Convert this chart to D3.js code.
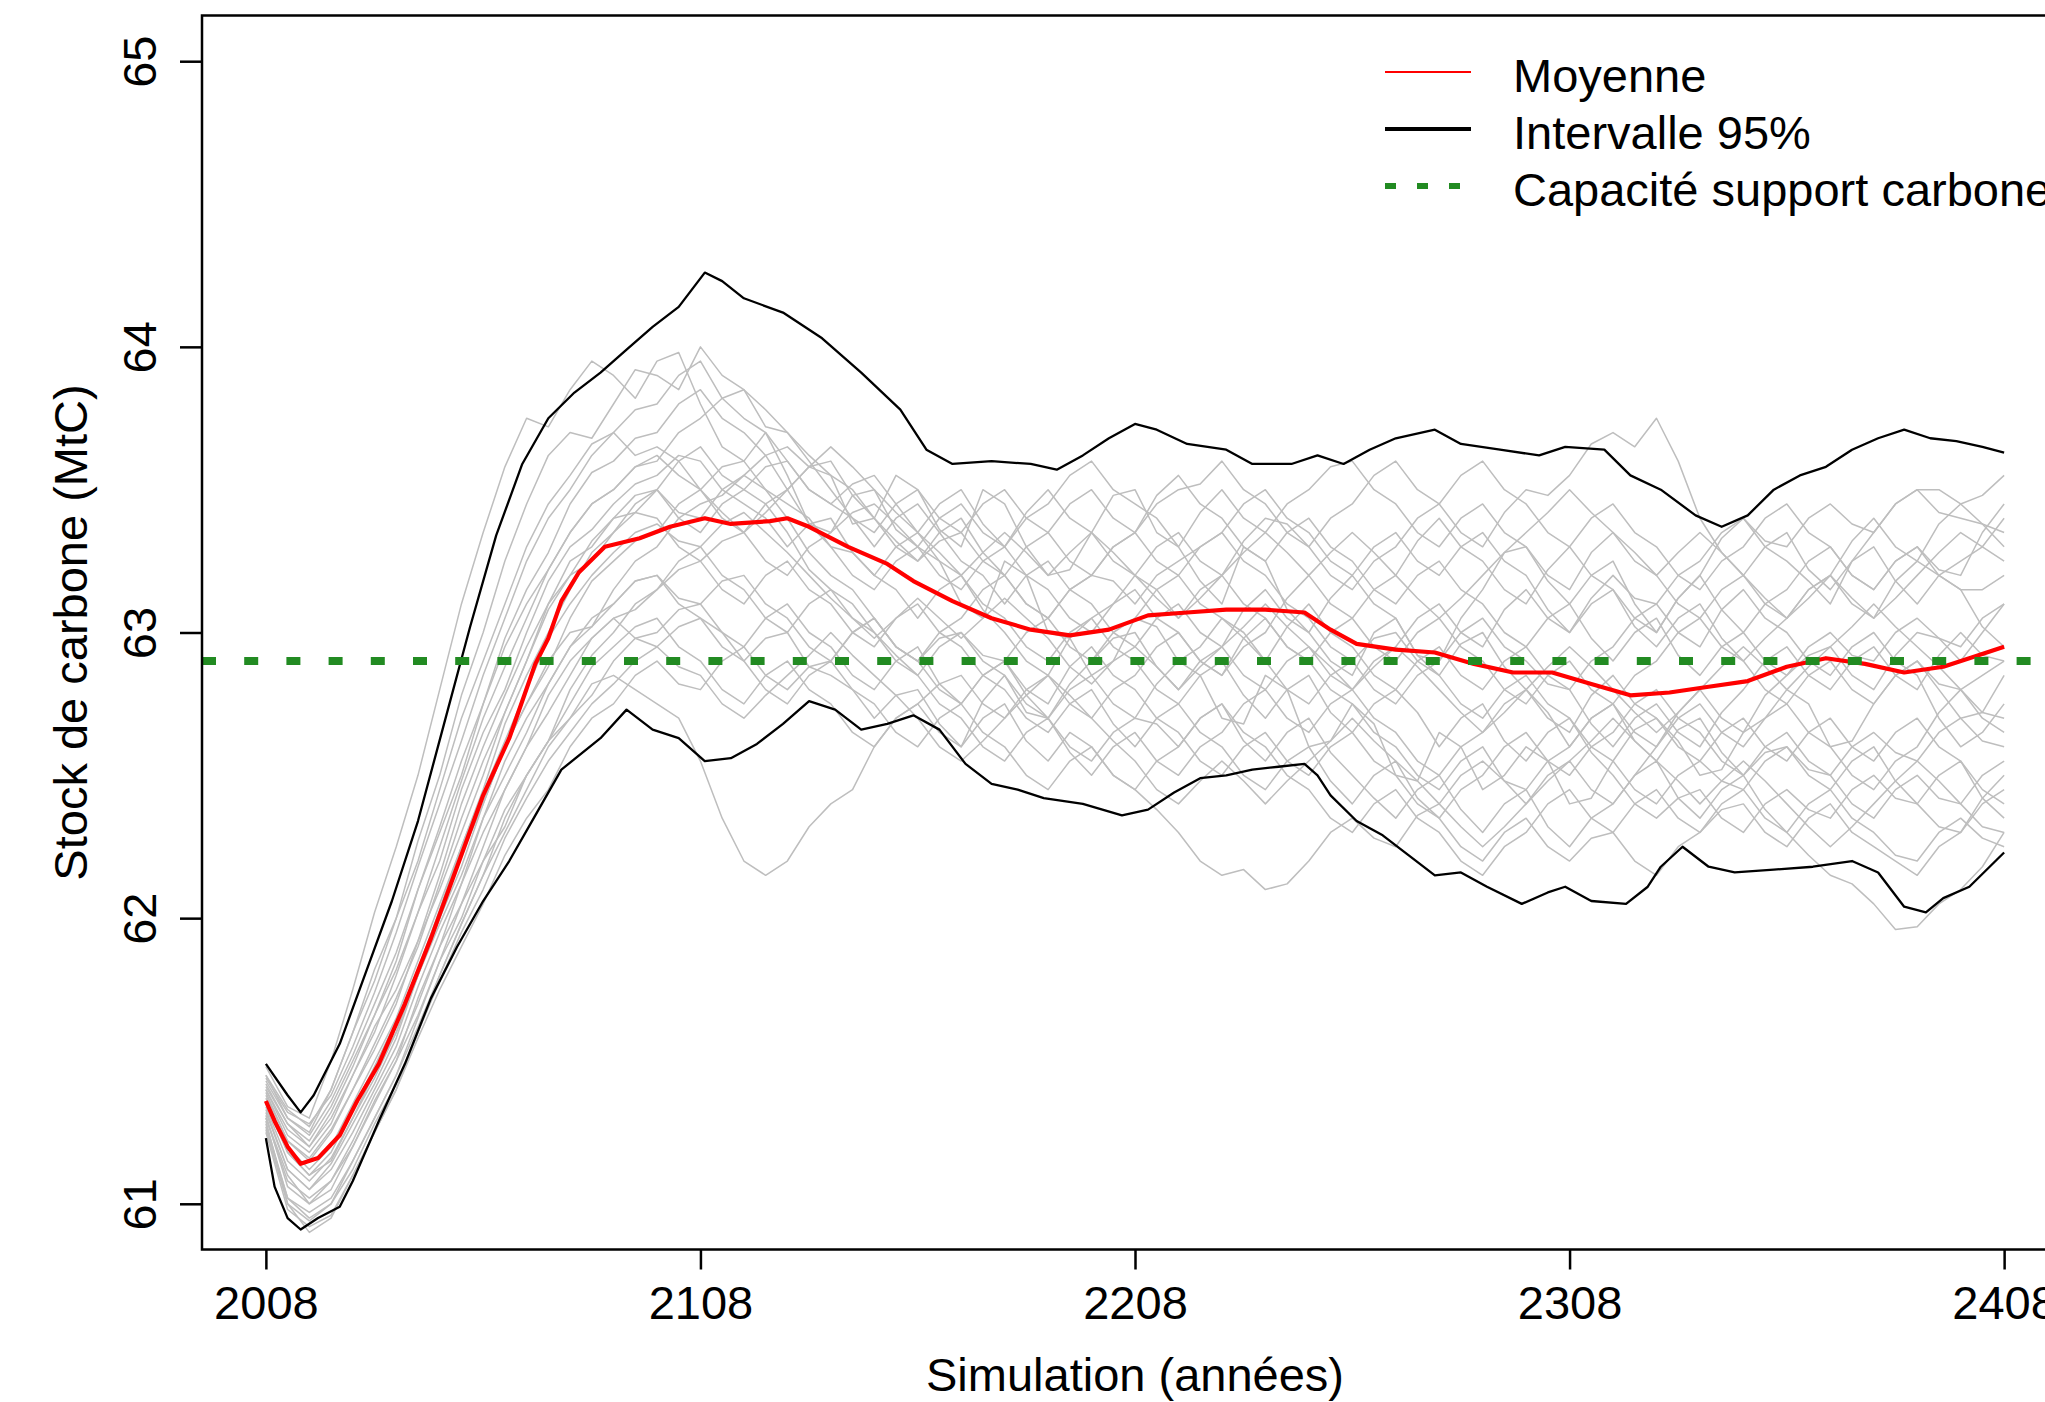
<!DOCTYPE html>
<html>
<head>
<meta charset="utf-8">
<script src="https://cdn.jsdelivr.net/npm/d3@7"></script>
<style>
  html, body { margin: 0; padding: 0; background: #ffffff; }
  svg { display: block; }
  text { font-family: "Liberation Sans", Arial, Helvetica, sans-serif; fill: #000; }
</style>
</head>
<body>
<svg id="chart" width="2045" height="1402"></svg>
<script>
// ---------------- DATA ----------------
const xTicks = [2008, 2108, 2208, 2308, 2408];
const yTicks = [61, 62, 63, 64, 65];
const capaciteSupport = 62.9;

const legendLabels = ["Moyenne", "Intervalle 95%", "Capacité support carbone"];

const moyenne = [[2008,61.36],[2010,61.29],[2013,61.20],[2016,61.14],[2020,61.16],[2025,61.24],[2029,61.36],[2034,61.49],[2040,61.70],[2046,61.93],[2052,62.18],[2058,62.43],[2064,62.63],[2070,62.89],[2073,62.98],[2076,63.11],[2080,63.21],[2086,63.30],[2094,63.33],[2101,63.37],[2109,63.40],[2115,63.38],[2124,63.39],[2128,63.40],[2133,63.37],[2142,63.30],[2151,63.24],[2157,63.18],[2166,63.11],[2175,63.05],[2184,63.01],[2193,62.99],[2202,63.01],[2211,63.06],[2220,63.07],[2229,63.08],[2238,63.08],[2247,63.07],[2253,63.01],[2259,62.96],[2268,62.94],[2277,62.93],[2286,62.89],[2295,62.86],[2304,62.86],[2313,62.82],[2322,62.78],[2331,62.79],[2340,62.81],[2349,62.83],[2358,62.88],[2367,62.91],[2376,62.89],[2385,62.86],[2394,62.88],[2400,62.91],[2408,62.95]];

const intervalleHaut = [[2008,61.49],[2013,61.38],[2016,61.32],[2019,61.38],[2025,61.56],[2031,61.81],[2037,62.06],[2043,62.34],[2049,62.68],[2055,63.02],[2061,63.34],[2067,63.59],[2073,63.75],[2079,63.84],[2085,63.91],[2091,63.99],[2097,64.07],[2103,64.14],[2109,64.26],[2113,64.23],[2118,64.17],[2127,64.12],[2136,64.03],[2145,63.91],[2154,63.78],[2160,63.64],[2166,63.59],[2175,63.60],[2184,63.59],[2190,63.57],[2196,63.62],[2202,63.68],[2208,63.73],[2213,63.71],[2220,63.66],[2229,63.64],[2235,63.59],[2244,63.59],[2250,63.62],[2256,63.59],[2262,63.64],[2268,63.68],[2277,63.71],[2283,63.66],[2292,63.64],[2301,63.62],[2307,63.65],[2316,63.64],[2322,63.55],[2329,63.50],[2337,63.41],[2343,63.37],[2349,63.41],[2355,63.50],[2361,63.55],[2367,63.58],[2373,63.64],[2379,63.68],[2385,63.71],[2391,63.68],[2397,63.67],[2403,63.65],[2408,63.63]];

const intervalleBas = [[2008,61.23],[2010,61.06],[2013,60.95],[2016,60.91],[2020,60.95],[2025,60.99],[2028,61.08],[2034,61.29],[2040,61.49],[2046,61.72],[2052,61.90],[2058,62.06],[2064,62.20],[2070,62.36],[2076,62.52],[2085,62.63],[2091,62.73],[2097,62.66],[2103,62.63],[2109,62.55],[2115,62.56],[2121,62.61],[2127,62.68],[2133,62.76],[2139,62.73],[2145,62.66],[2151,62.68],[2157,62.71],[2163,62.66],[2169,62.54],[2175,62.47],[2181,62.45],[2187,62.42],[2196,62.40],[2205,62.36],[2211,62.38],[2217,62.44],[2223,62.49],[2229,62.50],[2235,62.52],[2241,62.53],[2247,62.54],[2250,62.50],[2253,62.43],[2259,62.34],[2265,62.29],[2271,62.22],[2277,62.15],[2283,62.16],[2289,62.11],[2297,62.05],[2303,62.09],[2307,62.11],[2313,62.06],[2321,62.05],[2326,62.11],[2329,62.18],[2334,62.25],[2340,62.18],[2346,62.16],[2355,62.17],[2364,62.18],[2373,62.20],[2379,62.16],[2385,62.04],[2390,62.02],[2394,62.07],[2400,62.11],[2408,62.23]];

// years of the grey simulation trajectories (decades, and the years in between)
const simAnnees = [2008,2018,2028,2038,2048,2058,2068,2078,2088,2098,2108,2118,2128,2138,2148,2158,2168,2178,2188,2198,2208,2218,2228,2238,2248,2258,2268,2278,2288,2298,2308,2318,2328,2338,2348,2358,2368,2378,2388,2398,2408];
const simAnneesMi = [2013,2023,2033,2043,2053,2063,2073,2083,2093,2103,2113,2123,2133,2143,2153,2163,2173,2183,2193,2203,2213,2223,2233,2243,2253,2263,2273,2283,2293,2303,2313,2323,2333,2343,2353,2363,2373,2383,2393,2403];

const sim01 = [61.45,61.25,61.6,62.0,62.5,63.0,63.45,63.7,63.8,63.9,64.0,63.85,63.7,63.55,63.4,63.5,63.3,63.45,63.2,63.35,63.5,63.3,63.1,63.25,63.0,62.85,63.05,62.9,63.15,63.3,63.1,63.25,63.0,63.2,63.4,63.25,63.1,63.35,63.5,63.4,63.3];
const sim01m = [61.30,61.40,61.78,62.27,62.78,63.25,63.62,63.68,63.92,63.85,63.9,63.72,63.62,63.38,63.55,63.36,63.5,63.3,63.22,63.48,63.35,63.18,63.3,63.08,62.9,63.0,62.92,63.05,63.28,63.18,63.2,63.1,63.12,63.33,63.3,63.18,63.25,63.45,63.42,63.38];
const sim02 = [61.48,61.3,61.75,62.25,62.8,63.35,63.75,63.85,63.9,63.95,63.8,63.6,63.55,63.35,63.5,63.3,63.1,63.25,63.0,62.85,63.05,62.9,62.7,62.85,62.6,62.75,62.5,62.65,62.45,62.6,62.4,62.55,62.7,62.5,62.65,62.8,62.6,62.75,62.9,62.7,62.85];
const sim02m = [61.34,61.5,62.02,62.5,63.1,63.58,63.72,63.95,63.82,63.98,63.65,63.7,63.38,63.48,63.36,63.25,63.05,63.2,62.98,62.9,63.02,62.85,62.68,62.8,62.62,62.68,62.48,62.6,62.5,62.55,62.42,62.66,62.62,62.52,62.7,62.75,62.62,62.85,62.8,62.72];
const sim03 = [61.3,61.0,61.2,61.5,61.85,62.2,62.5,62.7,62.85,62.75,62.55,62.2,62.2,62.4,62.6,62.75,62.6,62.85,62.7,62.9,63.0,62.8,62.95,63.15,63.0,63.2,63.05,62.85,63.0,62.8,62.6,62.75,62.55,62.7,62.5,62.6,62.45,62.6,62.4,62.55,62.35];
const sim03m = [61.1,61.05,61.36,61.66,62.05,62.32,62.62,62.82,62.8,62.7,62.35,62.15,62.32,62.45,62.7,62.65,62.76,62.72,62.82,62.98,62.88,62.9,63.08,63.05,63.12,63.1,62.92,62.96,62.88,62.72,62.7,62.62,62.66,62.58,62.58,62.5,62.55,62.48,62.5,62.42];
const sim04 = [61.35,61.1,61.3,61.6,62.0,62.4,62.75,63.0,63.1,63.2,63.05,62.9,63.0,62.85,62.7,62.8,62.6,62.75,62.55,62.6,62.45,62.3,62.15,62.1,62.2,62.35,62.25,62.4,62.55,62.45,62.6,62.75,62.6,62.8,62.65,62.85,62.95,62.8,63.0,62.9,63.1];
const sim04m = [61.18,61.15,61.44,61.8,62.22,62.6,62.9,63.02,63.18,63.1,63.0,62.98,62.88,62.8,62.78,62.68,62.7,62.62,62.65,62.5,62.38,62.2,62.17,62.12,62.3,62.28,62.36,62.5,62.48,62.55,62.7,62.65,62.72,62.7,62.78,62.92,62.85,62.92,62.98,63.0];
const sim05 = [61.4,61.2,61.45,61.8,62.2,62.65,63.0,63.3,63.45,63.55,63.6,63.45,63.3,63.4,63.2,63.05,63.2,63.0,62.85,63.05,63.2,63.35,63.2,63.4,63.3,63.15,63.3,63.45,63.3,63.5,63.55,63.7,63.75,63.4,63.2,63.35,63.15,63.3,63.1,63.25,63.4];
const sim05m = [61.26,61.3,61.6,62.02,62.45,62.8,63.18,63.36,63.52,63.62,63.5,63.4,63.38,63.28,63.15,63.15,63.08,62.9,62.98,63.1,63.3,63.25,63.32,63.38,63.2,63.25,63.4,63.35,63.42,63.48,63.66,63.65,63.6,63.28,63.3,63.22,63.25,63.18,63.2,63.3];
const sim06 = [61.28,60.95,61.15,61.45,61.8,62.15,62.45,62.7,62.9,63.0,63.1,62.95,63.1,62.95,62.8,62.95,62.75,62.9,62.7,62.55,62.7,62.6,62.75,62.55,62.7,62.5,62.35,62.5,62.3,62.45,62.25,62.4,62.55,62.35,62.5,62.3,62.15,62.05,61.97,62.1,62.3];
const sim06m = [61.02,61.0,61.3,61.62,61.98,62.3,62.6,62.78,62.98,63.08,63.0,63.05,63.0,62.85,62.9,62.82,62.85,62.78,62.6,62.65,62.68,62.7,62.62,62.65,62.58,62.42,62.45,62.38,62.4,62.32,62.35,62.5,62.42,62.45,62.38,62.22,62.12,61.96,62.05,62.18];
const sim07 = [61.38,61.15,61.4,61.7,62.1,62.5,62.9,63.25,63.4,63.5,63.35,63.5,63.6,63.45,63.3,63.45,63.25,63.1,63.25,63.1,62.95,63.1,62.95,62.8,62.95,62.8,62.95,63.1,62.95,63.15,63.0,63.2,63.1,63.25,63.4,63.3,63.45,63.35,63.5,63.45,63.55];
const sim07m = [61.22,61.25,61.54,61.92,62.3,62.72,63.1,63.3,63.48,63.4,63.45,63.58,63.5,63.4,63.4,63.35,63.2,63.2,63.15,63.0,63.05,63.0,62.85,62.9,62.85,62.9,63.05,63.0,63.08,63.05,63.12,63.12,63.2,63.35,63.32,63.4,63.38,63.45,63.5,63.48];
const sim08 = [61.25,60.92,61.1,61.4,61.75,62.05,62.35,62.6,62.75,62.9,62.8,62.95,62.8,62.9,63.05,62.9,63.05,63.2,63.05,63.2,63.1,63.25,63.35,63.2,63.05,62.9,63.0,62.85,62.7,62.85,62.7,62.55,62.4,62.55,62.45,62.6,62.5,62.65,62.55,62.7,62.6];
const sim08m = [60.98,60.96,61.25,61.58,61.9,62.22,62.45,62.7,62.85,62.82,62.9,62.85,62.88,63.0,62.95,63.0,63.15,63.1,63.15,63.18,63.2,63.3,63.25,63.1,62.95,62.98,62.9,62.75,62.8,62.75,62.6,62.45,62.5,62.48,62.55,62.52,62.6,62.58,62.65,62.62];
const sim09 = [61.42,61.22,61.5,61.85,62.3,62.75,63.15,63.45,63.6,63.7,63.85,63.7,63.5,63.6,63.4,63.25,63.4,63.2,63.35,63.5,63.35,63.55,63.4,63.25,63.4,63.25,63.1,63.25,63.1,62.95,63.1,62.9,63.05,62.85,63.0,62.85,63.0,62.9,63.05,62.95,63.1];
const sim09m = [61.28,61.34,61.66,62.1,62.5,62.98,63.28,63.56,63.68,63.8,63.75,63.62,63.58,63.48,63.32,63.35,63.28,63.3,63.45,63.4,63.48,63.45,63.3,63.35,63.3,63.15,63.2,63.15,63.0,63.05,62.98,63.0,62.92,62.95,62.9,62.95,62.92,63.0,62.98,63.05];
const sim10 = [61.32,61.05,61.25,61.55,61.95,62.35,62.65,62.95,63.15,63.3,63.45,63.55,63.4,63.2,63.05,62.9,63.0,62.85,62.7,62.85,62.7,62.9,63.05,62.9,63.1,62.95,62.8,62.6,62.75,62.55,62.7,62.5,62.35,62.45,62.3,62.45,62.35,62.5,62.4,62.3,62.45];
const sim10m = [61.12,61.12,61.4,61.76,62.12,62.5,62.82,63.02,63.25,63.4,63.48,63.5,63.28,63.15,62.95,62.98,62.9,62.75,62.8,62.75,62.82,62.95,63.0,63.02,63.0,62.85,62.72,62.7,62.62,62.65,62.58,62.4,62.42,62.35,62.4,62.38,62.45,62.42,62.32,62.4];
const sim11 = [61.44,61.28,61.55,61.95,62.4,62.85,63.25,63.5,63.7,63.8,63.95,63.75,63.6,63.45,63.55,63.35,63.5,63.3,63.45,63.6,63.45,63.3,63.5,63.35,63.5,63.6,63.45,63.3,63.45,63.3,63.15,63.35,63.2,63.05,63.2,63.05,63.2,63.4,63.25,63.45,63.35];
const sim11m = [61.32,61.38,61.74,62.18,62.62,63.05,63.4,63.62,63.78,63.9,63.82,63.7,63.5,63.52,63.45,63.45,63.38,63.4,63.55,63.5,63.4,63.42,63.4,63.45,63.58,63.5,63.35,63.4,63.35,63.2,63.28,63.25,63.1,63.15,63.1,63.15,63.32,63.3,63.38,63.38];
const sim12 = [61.3,61.02,61.2,61.5,61.9,62.25,62.6,62.85,63.05,63.15,63.25,63.1,63.25,63.1,62.95,63.1,62.95,62.8,62.65,62.8,62.6,62.75,62.6,62.45,62.6,62.4,62.55,62.35,62.2,62.35,62.2,62.3,62.15,62.3,62.45,62.3,62.45,62.3,62.2,62.35,62.25];
const sim12m = [61.08,61.08,61.35,61.72,62.05,62.45,62.72,62.98,63.08,63.22,63.15,63.2,63.15,63.0,63.05,63.0,62.85,62.7,62.75,62.68,62.7,62.65,62.5,62.55,62.48,62.5,62.42,62.25,62.3,62.25,62.28,62.2,62.25,62.4,62.35,62.4,62.35,62.22,62.3,62.28];
const sim13 = [61.37,61.12,61.35,61.65,62.05,62.45,62.85,63.15,63.35,63.4,63.25,63.35,63.2,63.35,63.45,63.3,63.15,63.3,63.15,63.0,63.15,63.0,62.85,63.0,63.2,63.05,63.2,63.4,63.25,63.1,63.3,63.15,62.95,63.1,62.9,63.05,63.2,63.05,63.25,63.15,62.95];
const sim13m = [61.2,61.2,61.5,61.85,62.25,62.68,63.0,63.28,63.42,63.3,63.32,63.25,63.3,63.42,63.38,63.2,63.25,63.2,63.05,63.1,63.05,62.9,62.95,63.12,63.1,63.15,63.32,63.3,63.15,63.22,63.2,63.02,63.05,62.98,62.98,63.15,63.1,63.18,63.2,63.02];
const sim14 = [61.27,60.97,61.15,61.45,61.85,62.2,62.5,62.75,62.95,63.05,62.9,62.75,62.9,62.75,62.6,62.75,62.85,62.7,62.85,62.7,62.85,63.0,62.85,63.05,62.9,62.75,62.6,62.45,62.6,62.4,62.55,62.4,62.6,62.75,62.6,62.75,62.6,62.45,62.6,62.8,62.7];
const sim14m = [61.02,61.02,61.3,61.65,62.0,62.38,62.62,62.88,63.02,62.95,62.8,62.85,62.8,62.65,62.7,62.82,62.75,62.8,62.75,62.8,62.95,62.9,62.98,62.95,62.8,62.65,62.5,62.55,62.48,62.5,62.45,62.5,62.7,62.65,62.7,62.65,62.5,62.55,62.72,62.72];
const sim15 = [61.4,61.18,61.45,61.75,62.15,62.6,62.95,63.2,63.4,63.5,63.65,63.5,63.35,63.15,63.0,62.85,63.0,62.9,63.05,62.9,63.05,63.2,63.05,62.9,62.75,62.9,62.75,62.9,63.05,62.9,62.8,62.95,63.1,62.95,63.15,63.0,62.85,63.0,62.85,62.6,62.75];
const sim15m = [61.24,61.28,61.62,61.92,62.4,62.78,63.1,63.32,63.42,63.6,63.55,63.45,63.22,63.1,62.9,62.95,62.92,63.0,62.95,63.0,63.15,63.1,62.98,62.8,62.85,62.8,62.85,63.0,62.95,62.82,62.9,63.05,63.0,63.08,63.05,62.9,62.95,62.9,62.7,62.65];
const sim16 = [61.34,61.08,61.3,61.6,62.0,62.4,62.75,63.05,63.25,63.35,63.5,63.35,63.5,63.3,63.2,63.35,63.2,63.05,62.9,63.05,62.9,62.75,62.9,62.7,62.85,62.65,62.8,62.95,62.8,62.95,62.8,62.6,62.75,62.6,62.8,62.95,62.8,62.95,62.8,63.0,62.9];
const sim16m = [61.15,61.16,61.46,61.8,62.18,62.6,62.88,63.18,63.32,63.45,63.4,63.45,63.38,63.28,63.3,63.25,63.1,62.95,63.0,62.95,62.8,62.85,62.78,62.8,62.72,62.75,62.9,62.85,62.9,62.85,62.68,62.7,62.65,62.72,62.9,62.85,62.9,62.85,62.92,62.92];
const sim17 = [61.45,61.27,61.6,62.0,62.45,62.9,63.3,63.55,63.7,63.65,63.5,63.6,63.45,63.3,63.15,63.3,63.45,63.3,63.5,63.35,63.2,63.05,63.2,63.05,62.9,63.05,62.9,63.05,62.9,62.75,62.9,62.75,62.9,63.05,62.9,62.75,62.9,62.75,62.9,62.8,62.65];
const sim17m = [61.33,61.4,61.82,62.2,62.7,63.1,63.45,63.66,63.62,63.6,63.58,63.5,63.4,63.2,63.25,63.4,63.35,63.42,63.4,63.25,63.15,63.15,63.1,62.95,63.0,62.95,63.0,62.95,62.8,62.85,62.8,62.85,63.0,62.95,62.8,62.85,62.8,62.85,62.82,62.7];
const sim18 = [61.29,60.9,61.1,61.4,61.8,62.15,62.5,62.8,63.0,63.15,63.3,63.15,63.0,63.15,63.0,62.85,62.7,62.55,62.7,62.5,62.65,62.5,62.65,62.8,62.65,62.8,62.65,62.5,62.65,62.8,62.65,62.85,62.7,62.55,62.7,62.55,62.7,62.55,62.7,62.55,62.4];
const sim18m = [61.0,60.95,61.25,61.6,61.98,62.35,62.62,62.92,63.1,63.25,63.2,63.05,63.1,63.05,62.92,62.75,62.6,62.65,62.58,62.6,62.55,62.6,62.75,62.7,62.75,62.7,62.55,62.6,62.75,62.7,62.78,62.75,62.6,62.65,62.6,62.65,62.6,62.65,62.6,62.45];
const sim19 = [61.39,61.16,61.4,61.72,62.12,62.55,62.9,63.2,63.35,63.5,63.4,63.55,63.65,63.55,63.4,63.25,63.35,63.2,63.05,63.2,63.35,63.2,63.35,63.5,63.35,63.2,63.35,63.2,63.35,63.2,63.0,63.15,63.0,63.2,63.0,63.15,63.3,63.15,63.3,63.2,63.45];
const sim19m = [61.22,61.26,61.56,61.9,62.35,62.72,63.08,63.25,63.45,63.42,63.5,63.62,63.58,63.5,63.3,63.32,63.25,63.1,63.15,63.3,63.25,63.3,63.45,63.4,63.25,63.3,63.25,63.3,63.25,63.08,63.1,63.05,63.12,63.08,63.1,63.25,63.2,63.25,63.22,63.35];
const sim20 = [61.33,61.05,61.28,61.58,61.98,62.35,62.7,62.95,63.1,63.2,63.1,63.2,63.05,62.9,63.05,62.9,62.75,62.9,62.75,62.95,62.8,62.65,62.5,62.65,62.5,62.65,62.5,62.35,62.5,62.65,62.5,62.65,62.8,62.65,62.5,62.65,62.5,62.35,62.5,62.4,62.55];
const sim20m = [61.12,61.14,61.42,61.8,62.15,62.55,62.82,63.05,63.18,63.12,63.18,63.1,62.95,63.0,62.95,62.8,62.85,62.8,62.88,62.85,62.7,62.55,62.6,62.55,62.6,62.55,62.4,62.45,62.6,62.55,62.6,62.75,62.7,62.55,62.6,62.55,62.4,62.45,62.42,62.5];
const sim21 = [61.43,61.24,61.52,61.88,62.32,62.75,63.1,63.35,63.5,63.6,63.75,63.85,63.7,63.5,63.35,63.5,63.35,63.5,63.35,63.2,63.35,63.5,63.6,63.45,63.3,63.45,63.6,63.45,63.6,63.45,63.3,63.45,63.3,63.15,63.3,63.45,63.3,63.15,63.3,63.15,63.2];
const sim21m = [61.3,61.36,61.7,62.1,62.55,62.95,63.22,63.45,63.58,63.7,63.82,63.78,63.6,63.4,63.45,63.4,63.45,63.4,63.25,63.3,63.45,63.52,63.5,63.35,63.4,63.55,63.5,63.55,63.5,63.35,63.4,63.35,63.2,63.25,63.4,63.35,63.2,63.25,63.2,63.15];
const sim22 = [61.31,61.0,61.22,61.52,61.9,62.3,62.6,62.9,63.05,62.95,63.05,62.9,62.75,62.9,62.75,62.6,62.75,62.6,62.45,62.6,62.45,62.6,62.75,62.6,62.45,62.3,62.45,62.3,62.15,62.3,62.45,62.3,62.45,62.3,62.4,62.25,62.4,62.25,62.15,62.3,62.5];
const sim22m = [61.06,61.08,61.38,61.7,62.12,62.45,62.78,62.98,62.98,63.02,62.95,62.8,62.85,62.8,62.65,62.7,62.65,62.5,62.55,62.5,62.55,62.7,62.65,62.5,62.35,62.4,62.35,62.2,62.25,62.4,62.35,62.4,62.35,62.38,62.3,62.35,62.3,62.2,62.25,62.42];
const sim23 = [61.36,61.1,61.33,61.64,62.03,62.44,62.8,63.1,63.28,63.38,63.3,63.42,63.28,63.12,62.98,63.12,62.98,63.12,62.98,62.82,62.95,62.8,62.95,63.1,62.95,62.8,62.95,62.8,62.65,62.8,62.95,62.8,62.65,62.8,62.95,62.8,62.95,63.1,62.95,62.8,62.9];
const sim23m = [61.18,61.18,61.48,61.82,62.25,62.62,62.98,63.2,63.35,63.32,63.38,63.35,63.2,63.05,63.05,63.05,63.05,63.05,62.88,62.9,62.88,62.88,63.02,63.02,62.88,62.88,62.88,62.72,62.72,62.88,62.88,62.72,62.72,62.88,62.88,62.88,63.02,63.02,62.88,62.85];
const sim24 = [61.26,60.94,61.12,61.42,61.78,62.1,62.42,62.65,62.82,62.95,62.85,62.7,62.85,63.0,62.85,62.7,62.55,62.7,62.85,62.7,62.55,62.4,62.55,62.4,62.55,62.7,62.55,62.4,62.25,62.4,62.55,62.7,62.55,62.4,62.55,62.4,62.25,62.4,62.55,62.4,62.3];
const sim24m = [61.0,61.0,61.28,61.6,61.95,62.28,62.55,62.75,62.9,62.88,62.75,62.78,62.92,62.92,62.78,62.6,62.62,62.78,62.78,62.62,62.45,62.48,62.48,62.48,62.62,62.62,62.48,62.32,62.32,62.48,62.62,62.62,62.48,62.48,62.48,62.32,62.32,62.48,62.48,62.32];
const sim25 = [61.41,61.2,61.48,61.82,62.25,62.7,63.05,63.35,63.5,63.62,63.5,63.35,63.5,63.65,63.5,63.35,63.2,63.35,63.2,63.35,63.2,63.05,63.2,63.35,63.2,63.35,63.2,63.05,63.2,63.35,63.5,63.35,63.2,63.35,63.2,63.05,63.2,63.05,63.2,63.35,63.25];
const sim25m = [61.28,61.32,61.66,62.02,62.48,62.88,63.22,63.45,63.58,63.55,63.42,63.42,63.58,63.58,63.42,63.28,63.28,63.28,63.28,63.28,63.12,63.12,63.28,63.28,63.28,63.28,63.12,63.12,63.28,63.42,63.42,63.28,63.28,63.28,63.12,63.12,63.12,63.12,63.28,63.3];

const simulations = [
  [sim01, sim01m], [sim02, sim02m], [sim03, sim03m], [sim04, sim04m], [sim05, sim05m],
  [sim06, sim06m], [sim07, sim07m], [sim08, sim08m], [sim09, sim09m], [sim10, sim10m],
  [sim11, sim11m], [sim12, sim12m], [sim13, sim13m], [sim14, sim14m], [sim15, sim15m],
  [sim16, sim16m], [sim17, sim17m], [sim18, sim18m], [sim19, sim19m], [sim20, sim20m],
  [sim21, sim21m], [sim22, sim22m], [sim23, sim23m], [sim24, sim24m], [sim25, sim25m]
];

// ---------------- LAYOUT ----------------
const plot = { left: 202, right: 2068, top: 15.5, bottom: 1249.5 };
const FONT = 47;

const svg = d3.select("#chart");

const x = d3.scaleLinear().domain([1993.3, 2422.7]).range([plot.left, plot.right]);
const y = d3.scaleLinear().domain([60.84, 65.16]).range([plot.bottom, plot.top]);

svg.append("defs").append("clipPath").attr("id", "clip")
  .append("rect")
  .attr("x", plot.left).attr("y", plot.top)
  .attr("width", plot.right - plot.left).attr("height", plot.bottom - plot.top);

const g = svg.append("g").attr("clip-path", "url(#clip)");

const linePairs = d3.line().x(d => x(d[0])).y(d => y(d[1]));

// grey trajectories
simulations.forEach(([s, m]) => {
  const pts = [];
  s.forEach((v, i) => {
    pts.push([simAnnees[i], v]);
    if (i < m.length) pts.push([simAnneesMi[i], m[i]]);
  });
  g.append("path").datum(pts)
    .attr("d", linePairs)
    .attr("fill", "none")
    .attr("stroke", "#bebebe")
    .attr("stroke-width", 1.5)
    .attr("stroke-linejoin", "round");
});

// 95% interval
[intervalleHaut, intervalleBas].forEach(s => {
  g.append("path").datum(s)
    .attr("d", linePairs)
    .attr("fill", "none")
    .attr("stroke", "#000000")
    .attr("stroke-width", 2.3)
    .attr("stroke-linejoin", "round");
});

// mean
g.append("path").datum(moyenne)
  .attr("d", linePairs)
  .attr("fill", "none")
  .attr("stroke", "#ff0000")
  .attr("stroke-width", 4.2)
  .attr("stroke-linejoin", "round");

// carrying capacity (dotted)
g.append("line")
  .attr("x1", plot.left).attr("x2", plot.right)
  .attr("y1", y(capaciteSupport)).attr("y2", y(capaciteSupport))
  .attr("stroke", "#228b22")
  .attr("stroke-width", 8)
  .attr("stroke-dasharray", "14 28.2");

// box
svg.append("rect")
  .attr("x", plot.left).attr("y", plot.top)
  .attr("width", plot.right - plot.left).attr("height", plot.bottom - plot.top)
  .attr("fill", "none").attr("stroke", "#000").attr("stroke-width", 2.5);

// x axis
const xAxis = svg.append("g")
  .attr("transform", `translate(0,${plot.bottom})`)
  .call(d3.axisBottom(x).tickValues(xTicks).tickSize(20).tickFormat(d3.format("d")));
xAxis.select(".domain").remove();
xAxis.selectAll(".tick line").attr("stroke", "#000").attr("stroke-width", 2.5);
xAxis.selectAll(".tick text")
  .attr("y", 69).attr("dy", 0)
  .attr("font-size", FONT)
  .attr("font-family", "Liberation Sans, Arial, sans-serif")
  .attr("fill", "#000");

// y axis
const yAxis = svg.append("g")
  .attr("transform", `translate(${plot.left},0)`)
  .call(d3.axisLeft(y).tickValues(yTicks).tickSize(22).tickFormat(d3.format("d")));
yAxis.select(".domain").remove();
yAxis.selectAll(".tick line").attr("stroke", "#000").attr("stroke-width", 2.5);
yAxis.selectAll(".tick text")
  .attr("x", 0).attr("dy", 0)
  .attr("transform", "translate(-46,0) rotate(-90)")
  .attr("text-anchor", "middle")
  .attr("font-size", FONT)
  .attr("font-family", "Liberation Sans, Arial, sans-serif")
  .attr("fill", "#000");

// axis titles
svg.append("text")
  .attr("x", (plot.left + plot.right) / 2).attr("y", 1391)
  .attr("text-anchor", "middle").attr("font-size", FONT)
  .text("Simulation (années)");

const ycenter = (plot.top + plot.bottom) / 2;
svg.append("text")
  .attr("transform", `translate(87,${ycenter}) rotate(-90)`)
  .attr("text-anchor", "middle").attr("font-size", FONT)
  .text("Stock de carbone (MtC)");

// legend
const legend = svg.append("g");
const rowsY = [72, 129, 186];
const lx1 = 1385, lx2 = 1471, tx = 1513;
legend.append("line").attr("x1", lx1).attr("x2", lx2).attr("y1", rowsY[0]).attr("y2", rowsY[0])
  .attr("stroke", "#ff0000").attr("stroke-width", 2);
legend.append("line").attr("x1", lx1).attr("x2", lx2).attr("y1", rowsY[1]).attr("y2", rowsY[1])
  .attr("stroke", "#000").attr("stroke-width", 4);
legend.append("line").attr("x1", lx1).attr("x2", lx2).attr("y1", rowsY[2]).attr("y2", rowsY[2])
  .attr("stroke", "#228b22").attr("stroke-width", 6).attr("stroke-dasharray", "11 21");
legendLabels.forEach((t, i) => {
  legend.append("text")
    .attr("x", tx).attr("y", rowsY[i] + 20)
    .attr("font-size", FONT)
    .text(t);
});
</script>
</body>
</html>
